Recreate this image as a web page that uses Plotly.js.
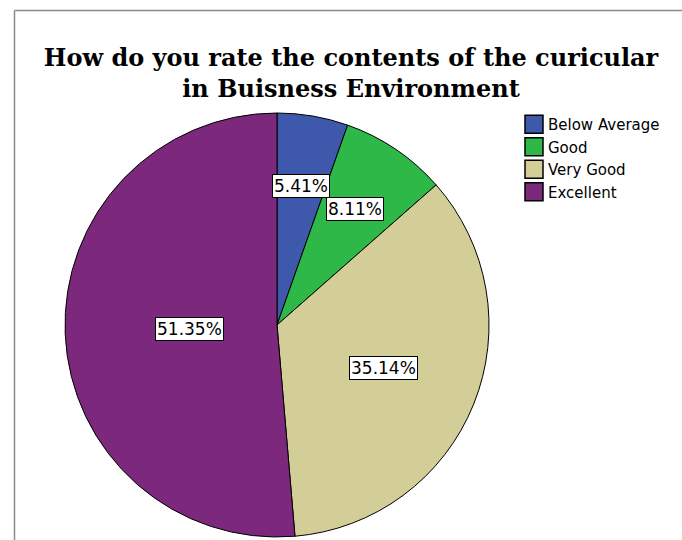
<!DOCTYPE html>
<html>
<head>
<meta charset="utf-8">
<script src="https://cdn.plot.ly/plotly-3.0.1.min.js"></script>
<style>
  html, body { margin: 0; padding: 0; background: #ffffff; }
  #chart { width: 682px; height: 540px; }
</style>
</head>
<body>
<div id="chart"></div>
<script>
// ---- data ----
var categories = ["Below Average", "Good", "Very Good", "Excellent"];
var counts = [2, 3, 13, 19];
var sliceColors = ["#3E58AC", "#2EB848", "#D3CE97", "#7C287D"];
var chartTitle = "How do you rate the contents of the curicular<br>in Buisness Environment";

// ---- layout constants (pixels) ----
var W = 682, H = 540;
var cx = 277, cy = 325, R = 212;

var total = counts.reduce(function (a, b) { return a + b; }, 0);
var pctText = counts.map(function (v) { return (v / total * 100).toFixed(2) + "%"; });

// label annotations at slice centroids, derived from the data
var annotations = [];
var cum = 0;
for (var i = 0; i < counts.length; i++) {
  var frac = counts[i] / total;
  var alpha = frac * 2 * Math.PI;
  var mid = (cum + frac / 2) * 2 * Math.PI; // clockwise from 12 o'clock
  var rc = 4 * Math.sin(alpha / 2) / (3 * alpha) * R;
  var px = cx + rc * Math.sin(mid);
  var py = cy - rc * Math.cos(mid);
  annotations.push({
    x: px / W, y: 1 - py / H, xref: "paper", yref: "paper",
    text: pctText[i], showarrow: false,
    xanchor: "center", yanchor: "middle",
    font: { family: "DejaVu Sans, Verdana, sans-serif", size: 17, color: "#000000" },
    bgcolor: "#ffffff", bordercolor: "#000000", borderwidth: 1, borderpad: 1
  });
  cum += frac;
}

var trace = {
  type: "pie",
  labels: categories,
  values: counts,
  sort: false,
  direction: "clockwise",
  rotation: 0,
  textinfo: "none",
  hoverinfo: "label+percent",
  marker: { colors: sliceColors, line: { color: "#000000", width: 1 } },
  domain: { x: [(cx - R) / W, (cx + R) / W], y: [1 - (cy + R) / H, 1 - (cy - R) / H] }
};

var frameColor = "#8a8a8a";
var layout = {
  width: W, height: H,
  margin: { l: 0, r: 0, t: 0, b: 0 },
  paper_bgcolor: "#ffffff",
  plot_bgcolor: "#ffffff",
  title: {
    text: chartTitle,
    x: 351 / W, xanchor: "center",
    y: 1 - 66 / H, yanchor: "top", yref: "container",
    font: { family: "DejaVu Serif, serif", size: 24, color: "#000000", weight: "bold" }
  },
  showlegend: true,
  legend: {
    x: 514 / W, xanchor: "left",
    y: 1 - 108 / H, yanchor: "top",
    font: { family: "DejaVu Sans, Verdana, sans-serif", size: 15, color: "#000000" },
    bgcolor: "rgba(0,0,0,0)", borderwidth: 0,
    traceorder: "normal"
  },
  annotations: annotations,
  shapes: [
    { type: "line", xref: "paper", yref: "paper", x0: 14.5 / W, x1: 14.5 / W, y0: 0, y1: 1 - 10.5 / H,
      line: { color: frameColor, width: 1.5 } },
    { type: "line", xref: "paper", yref: "paper", x0: 14.5 / W, x1: 1, y0: 1 - 10.5 / H, y1: 1 - 10.5 / H,
      line: { color: frameColor, width: 1.5 } }
  ]
};

Plotly.newPlot("chart", [trace], layout, { displayModeBar: false, staticPlot: true }).then(function (gd) {
  gd.querySelectorAll(".legendpoints path").forEach(function (p) {
    var t = p.getAttribute("transform") || "";
    p.setAttribute("transform", t + " scale(1.5)");
  });
  gd.querySelectorAll(".legendtext").forEach(function (t) {
    t.setAttribute("x", "34");
  });
});
</script>
</body>
</html>
